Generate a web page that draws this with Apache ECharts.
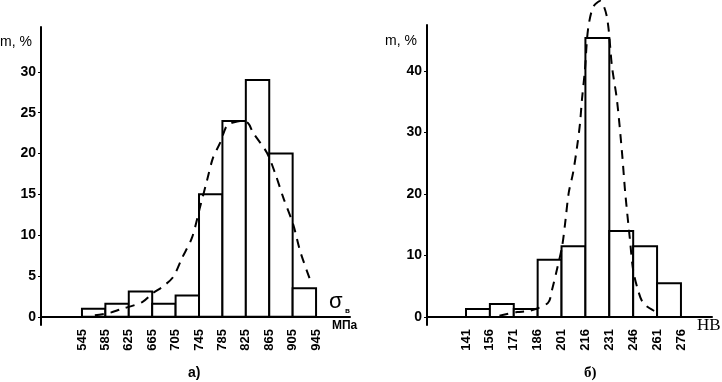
<!DOCTYPE html>
<html>
<head>
<meta charset="utf-8">
<script src="https://cdn.jsdelivr.net/npm/echarts@6/dist/echarts.min.js"></script>
<style>
  html, body { margin: 0; padding: 0; background: #fff; }
  #chart { width: 722px; height: 382px; }
</style>
</head>
<body>
<div id="chart"></div>
<script>
// left histogram: tensile strength, MPa
var leftEdges = [545, 585, 625, 665, 705, 745, 785, 825, 865, 905, 945];
var leftFreq = [1.0, 1.6, 3.1, 1.6, 2.6, 15, 24, 29, 20, 3.5];
var leftCurveX = [567, 593, 610, 648, 666, 683, 701, 716, 733, 747, 759, 769, 781, 793, 803, 816, 829, 837, 861, 875, 889, 906, 918, 935];
var leftCurveY = [0.2, 0.5, 0.9, 1.8, 2.9, 3.7, 4.9, 7.2, 9.7, 13.5, 16.8, 19.5, 21.3, 23.5, 23.8, 24.0, 23.7, 22.6, 20.1, 17.6, 14.6, 11.3, 8.0, 4.5];
var leftTicks = [0, 5, 10, 15, 20, 25, 30];

// right histogram: hardness, HB
var rightEdges = [141, 156, 171, 186, 201, 216, 231, 246, 261, 276];
var rightFreq = [1.3, 2.1, 1.3, 9.3, 11.5, 45.4, 14, 11.5, 5.5];
var rightCurveX = [162, 173, 181, 192.5, 195, 198, 201.3, 203.5, 205.5, 208.2, 210.7, 212.6, 213.8, 215.7, 217.6, 220.8, 225.2, 229.5, 232.7, 235.8, 239, 241, 244, 246, 249, 252.2, 258.4, 262.8];
var rightCurveY = [0.2, 0.8, 1.0, 2.3, 4.4, 7.6, 11.4, 15.8, 20.2, 23.4, 27.6, 31.5, 35.3, 40.2, 46.7, 50.4, 51.4, 48.8, 40.7, 35.3, 26.7, 20.2, 12.5, 7.6, 4.4, 2.3, 1.1, 0.7];
var rightTicks = [0, 10, 20, 30, 40];

function bins(edges, freq) {
    var out = [];
    for (var i = 0; i < freq.length; i++) out.push([edges[i], edges[i + 1], freq[i]]);
    return out;
}
function pairs(xs, ys) {
    return xs.map(function (x, i) { return [x, ys[i]]; });
}
function renderBar(params, api) {
    var p0 = api.coord([api.value(0), api.value(2)]);
    var p1 = api.coord([api.value(1), 0]);
    return {
        type: 'rect',
        shape: { x: p0[0], y: p0[1], width: p1[0] - p0[0], height: p1[1] - p0[1] },
        style: { fill: '#fff', stroke: '#000', lineWidth: 2 }
    };
}

var axisFont = { color: '#000', fontFamily: 'Liberation Sans', fontWeight: 'bold' };

function yAxisFor(idx, min, max, ticks) {
    return {
        type: 'value', gridIndex: idx, min: min, max: max,
        splitLine: { show: false },
        axisLine: { show: true, onZero: false, lineStyle: { color: '#000', width: 2 } },
        axisTick: { show: true, length: 3, customValues: ticks, lineStyle: { color: '#000' } },
        axisLabel: Object.assign({ customValues: ticks, fontSize: 14, margin: 5, padding: [0, 0, 8, 0] }, axisFont)
    };
}
function xAxisFor(idx, min, max, ticks) {
    return {
        type: 'value', gridIndex: idx, min: min, max: max,
        splitLine: { show: false },
        axisLine: { show: true, onZero: true, lineStyle: { color: '#000', width: 2 } },
        axisTick: { show: false },
        axisLabel: Object.assign({ customValues: ticks, fontSize: 13, rotate: 90, margin: 4 }, axisFont)
    };
}

var myChart = echarts.init(document.getElementById('chart'));
var option = {
    backgroundColor: '#fff',
    animation: false,
    grid: [
        { left: 41, top: 27, width: 309, height: 298 },
        { left: 427, top: 25, width: 285, height: 300 }
    ],
    xAxis: [
        xAxisFor(0, 475, 1003, leftEdges),
        xAxisFor(1, 116.5, 295.5, rightEdges)
    ],
    yAxis: [
        yAxisFor(0, -1, 35.5, leftTicks),
        yAxisFor(1, -1.3, 47.5, rightTicks)
    ],
    series: [
        {
            type: 'custom', xAxisIndex: 0, yAxisIndex: 0,
            renderItem: renderBar, data: bins(leftEdges, leftFreq)
        },
        {
            type: 'line', xAxisIndex: 0, yAxisIndex: 0, smooth: 0.3, symbol: 'none',
            lineStyle: { color: '#000', width: 2, type: [9, 7] },
            data: pairs(leftCurveX, leftCurveY)
        },
        {
            type: 'custom', xAxisIndex: 1, yAxisIndex: 1,
            renderItem: renderBar, data: bins(rightEdges, rightFreq)
        },
        {
            type: 'line', xAxisIndex: 1, yAxisIndex: 1, smooth: 0.3, symbol: 'none', clip: false,
            lineStyle: { color: '#000', width: 2, type: [9, 7] },
            data: pairs(rightCurveX, rightCurveY)
        }
    ],
    graphic: [
        { type: 'text', left: 0, top: 35, style: { text: 'm, %', font: '14px "Liberation Sans"', fill: '#000' } },
        { type: 'text', left: 385, top: 34, style: { text: 'm, %', font: '14px "Liberation Sans"', fill: '#000' } },
        { type: 'text', left: 329, top: 291, style: { text: 'σ', font: '22px "Liberation Sans"', fill: '#000' } },
        { type: 'text', left: 345, top: 307, style: { text: 'в', font: 'bold 8px "Liberation Sans"', fill: '#000' } },
        { type: 'text', left: 332, top: 320, style: { text: 'МПа', font: 'bold 12px "Liberation Sans"', fill: '#000' } },
        { type: 'text', left: 697, top: 317, style: { text: 'HB', font: '17px "Liberation Serif"', fill: '#000' } },
        { type: 'text', left: 188, top: 366, style: { text: 'а)', font: 'bold 14px "Liberation Sans"', fill: '#000' } },
        { type: 'text', left: 584, top: 366, style: { text: 'б)', font: 'bold 15px "Liberation Serif"', fill: '#000' } }
    ]
};
myChart.setOption(option);
</script>
</body>
</html>
